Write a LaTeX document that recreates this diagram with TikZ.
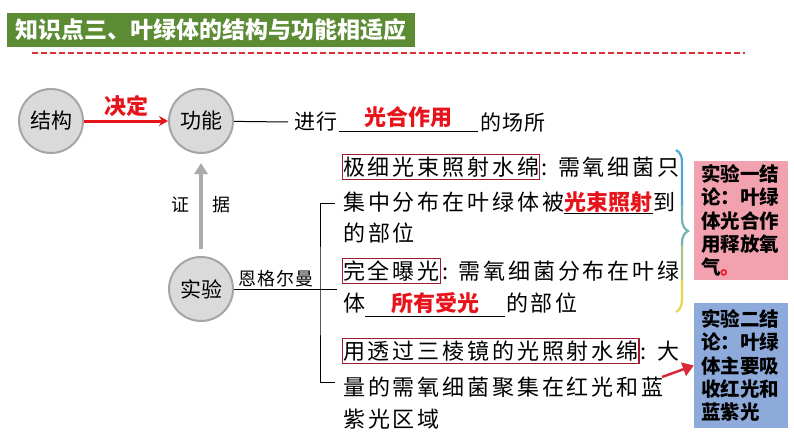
\documentclass[tikz,border=0pt]{standalone}
\usepackage{fontspec}
\setmainfont{Noto Sans CJK SC}
\newfontfamily\bodyfont[LetterSpace=13]{Noto Sans CJK SC}
\newfontfamily\rowfont[LetterSpace=5]{Noto Sans CJK SC}
\usetikzlibrary{positioning, arrows.meta, decorations.pathreplacing}

\definecolor{titlegreen}{HTML}{5B8B32}
\definecolor{dashred}{HTML}{E0303A}
\definecolor{ringfill}{HTML}{DADADA}
\definecolor{ringdraw}{HTML}{A6A6A6}
\definecolor{keyred}{HTML}{E8141C}
\definecolor{boxred}{HTML}{9E1B2E}
\definecolor{notepink}{HTML}{F2A2AE}
\definecolor{noteblue}{HTML}{8EAADB}
\definecolor{braceblue}{HTML}{4EA6D9}
\definecolor{braceyellow}{HTML}{E6D64A}
\definecolor{evgray}{HTML}{ABABAB}
\definecolor{arrowred}{HTML}{D9283A}

\tikzset{
  ring/.style={circle, draw=ringdraw, fill=ringfill, line width=2pt, minimum size=64pt, inner sep=0pt, font=\fontsize{21}{21}\selectfont},
  txt/.style={inner sep=0pt, anchor=west, font=\bodyfont\fontsize{22}{22}\selectfont},
  row/.style={inner sep=0pt, anchor=west, font=\rowfont\fontsize{21}{21}\selectfont},
  boxed/.style={txt, draw=boxred, line width=1.3pt, inner xsep=0.5pt, inner ysep=2pt},
  key/.style={inner sep=0pt, text=keyred, font=\fontsize{22}{22}\selectfont\bfseries},
  note/.style={rectangle, text width=80pt, inner xsep=7pt, align=left, font=\fontsize{19.5}{23.3}\selectfont\bfseries},
}

\begin{document}
\begin{tikzpicture}[x=1pt, y=-1pt, >=Stealth]
  \fill[white] (0,0) rectangle (794,447);
  \useasboundingbox (0,0) rectangle (794,447);

  % title bar
  \node[fill=titlegreen, text=white, minimum width=408pt, minimum height=34pt, inner sep=0pt,
        font=\fontsize{23}{23}\selectfont\bfseries] (title) at (211,30) {知识点三、叶绿体的结构与功能相适应};
  \draw[dashred, line width=1.3pt, dash pattern=on 6pt off 3pt] (32,53) -- (745,53);

  % circles
  \node[ring] (jg) at (51,121) {结构};
  \node[ring] (gn) at (201,121) {功能};
  \node[ring] (sy) at (201,289) {实验};
  \draw[keyred, line width=3pt, -{Stealth[length=9pt,width=10pt]}] (jg) -- node[above=3pt, key]{决定} (gn);
  \draw[evgray, line width=4pt, shorten <=7pt, shorten >=9pt, -{Triangle[length=11pt,width=13pt]}] (sy) -- (gn)
    node[midway, left=6pt, text=black, font=\fontsize{18}{18}\selectfont]{证}
    node[midway, right=6pt, text=black, font=\fontsize{18}{18}\selectfont]{据};

  % function row
  \node[row] (jx) at (294,122) {进行};
  \draw[line width=1pt] (gn) -- ([xshift=-6pt]jx.west);
  \node[key, minimum width=138pt, anchor=south west, inner ysep=4pt] (k0) at ([xshift=2pt]jx.south east) {光合作用};
  \draw[line width=1pt] (k0.south west) -- (k0.south east);
  \node[row, xshift=2pt] (cs) at (k0.east |- jx.west) {的场所};

  % experiment bracket
  \node[inner sep=0pt, anchor=south, font=\rowfont\fontsize{18}{18}\selectfont] (eg) at (276,287) {恩格尔曼};
  \coordinate (bt) at (335,203);
  \coordinate (bv) at (320,289);
  \coordinate (bm) at (337,289);
  \coordinate (bb) at (335,382);
  \draw[line width=1pt] (sy) -- (bm);
  \draw[line width=1pt] (bt) -| (bv) |- (bb);

  % first experiment
  \node[boxed] (b1) at (342,167) {极细光束照射水绵};
  \node[txt, right=1pt of b1] (l11) {: 需氧细菌只};
  \node[txt] (l12) at (343,202) {集中分布在叶绿体被};
  \node[key, right=0pt of l12, inner ysep=1pt] (k1) {光束照射};
  \draw[line width=1pt] (k1.south west) -- (k1.south east);
  \node[txt, right=1pt of k1] (l12b) {到};
  \node[txt] (l13) at (343,233) {的部位};

  % second experiment
  \node[boxed] (b2) at (342,271) {完全曝光};
  \node[txt, right=1pt of b2] (l21) {: 需氧细菌分布在叶绿};
  \node[txt] (l22) at (343,303) {体};
  \node[key, minimum width=139pt, inner ysep=3pt, right=0pt of l22] (k2) {所有受光};
  \draw[line width=1pt] (k2.south west) -- (k2.south east);
  \node[txt, right=1pt of k2] (l22b) {的部位};

  % third experiment
  \node[boxed] (b3) at (342,351) {用透过三棱镜的光照射水绵};
  \node[txt, right=1pt of b3] (l31) {: 大};
  \node[txt] (l32) at (343,387) {量的需氧细菌聚集在红光和蓝};
  \node[txt] (l33) at (343,419) {紫光区域};

  % conclusions
  \foreach \ya/\yb/\bc in {140/205/braceblue, 205/245/braceblue!75!braceyellow, 245/280/braceblue!40!braceyellow, 280/320/braceyellow}{
    \begin{scope}
      \clip (660,\ya) rectangle (705,\yb);
      \draw[\bc, line width=2.2pt, decorate, decoration={brace, amplitude=12pt}] (676,150) -- (676,312);
    \end{scope}
  }
  \node[note, fill=notepink, minimum height=115pt] (c1) at (741,220.5) {实验一结\\论：叶绿\\体光合作\\用释放氧\\气\textcolor{keyred}{。}};
  \node[note, fill=noteblue, minimum height=125pt] (c2) at (741,365.5) {实验二结\\论：叶绿\\体主要吸\\收红光和\\蓝紫光};
  \coordinate (at) at (662,377);
  \draw[arrowred, line width=2.5pt, -{Triangle[length=11pt,width=14pt]}] (at) -- (c2.west);
\end{tikzpicture}
\end{document}
